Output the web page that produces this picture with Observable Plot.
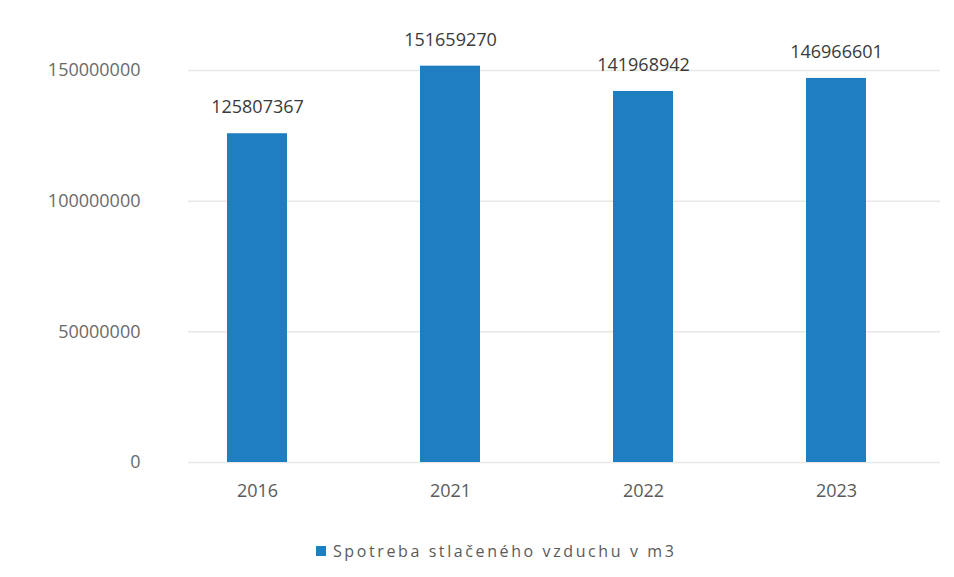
<!DOCTYPE html>
<html>
<head>
<meta charset="utf-8">
<script src="https://cdn.jsdelivr.net/npm/d3@7"></script>
<script src="https://cdn.jsdelivr.net/npm/@observablehq/plot@0.6"></script>
<style>
  html, body { margin: 0; padding: 0; background: #fff; }
  #chart { width: 954px; }
  .legend { display: flex; align-items: center; justify-content: flex-start; padding-left: 316px; margin-top: 20px;
    font-family: "Open Sans", sans-serif; font-size: 16px; color: #5a5a5a; letter-spacing: 2.6px; }
  .legend .sw { width: 10px; height: 10px; background: #1f7ec0; margin-right: 7px; }
</style>
</head>
<body>
<div id="chart"></div>
<script>
const years = ["2016", "2021", "2022", "2023"];
const values = [125807367, 151659270, 141968942, 146966601];
const yTicks = [0, 50000000, 100000000, 150000000];
const seriesName = "Spotreba stlačeného vzduchu v m3";
const barColor = "#1f7ec0";

const data = years.map((y, i) => ({year: y, value: values[i]}));
const fmt = d3.format("d");

const plot = Plot.plot({
  width: 954,
  height: 520,
  marginLeft: 160,
  marginRight: 21,
  marginTop: 70,
  marginBottom: 58,
  style: {fontFamily: "Open Sans, sans-serif", background: "#fff", overflow: "visible"},
  x: {domain: years, paddingInner: 0.69, paddingOuter: 0.345, label: null, tickSize: 0, tickPadding: 22},
  y: {domain: [0, 150000000], ticks: yTicks, label: null, tickSize: 0, tickPadding: 22, tickFormat: fmt},
  marks: [
    Plot.ruleY(yTicks, {stroke: "#e8e8e8", strokeWidth: 1.5, insetLeft: 28, insetRight: -7}),
    Plot.barY(data, {x: "year", y: "value", fill: barColor}),
    Plot.text(data, {x: "year", y: "value", text: d => fmt(d.value), dy: -26,
      fontSize: 18, fill: "#3a3a3a", style: "letter-spacing:2.3px"}),
    Plot.axisY({ticks: yTicks, tickSize: 0, tickPadding: 20, tickFormat: fmt, label: null,
      fontSize: 18, fill: "#6a6a6a", style: "letter-spacing:2.6px"}),
    Plot.axisX({tickSize: 0, tickPadding: 22, label: null, fontSize: 18, fill: "#5a5a5a", style: "letter-spacing:1.8px"})
  ]
});
document.getElementById("chart").appendChild(plot);

const legend = document.createElement("div");
legend.className = "legend";
legend.innerHTML = `<span class="sw"></span><span></span>`;
legend.querySelector("span:last-child").textContent = seriesName;
document.body.appendChild(legend);
</script>
</body>
</html>
